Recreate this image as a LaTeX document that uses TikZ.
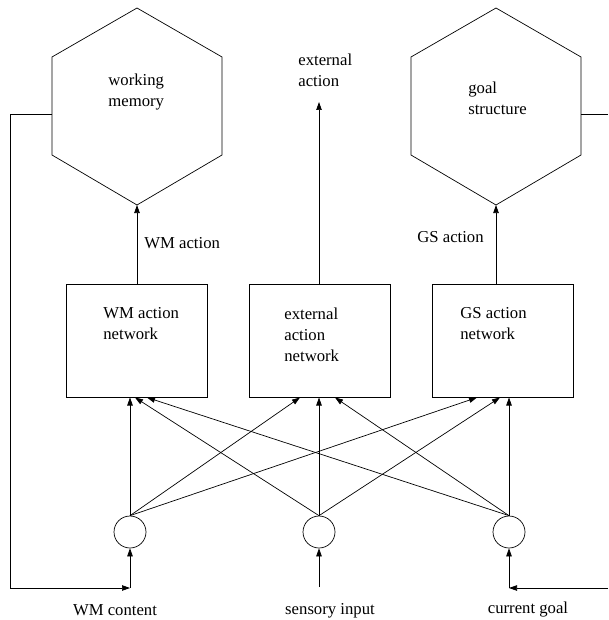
\documentclass[tikz,border=0pt]{standalone}
\usepackage{fontspec}
\setmainfont{Liberation Serif}
\newfontfamily\lserif{Liberation Serif}
\usetikzlibrary{arrows.meta}
\begin{document}
\begin{tikzpicture}[x=1pt,y=-1pt,
  line width=0.7pt,
  >={Triangle[length=8pt,width=5.5pt]},
  txt/.style={inner sep=0pt, align=left, font=\lserif\fontsize{16.7}{21}\selectfont},
  netbox/.style={draw, minimum width=141pt, minimum height=113pt, inner sep=0pt},
  unit/.style={draw, circle, minimum size=32pt, inner sep=0pt}]
\useasboundingbox (0,0) rectangle (608,620);

% hexagons
\draw (137,8) -- (222,57) -- (222,155) -- (137,205) -- (52,155) -- (52,57) -- cycle;
\coordinate (wmb) at (137,205);
\coordinate (wml) at (52,114);
\node[txt, anchor=west] (wmt) at (108,92) {working\\memory};

\draw (496,8) -- (581,57) -- (581,155) -- (496,205) -- (411,155) -- (411,57) -- cycle;
\coordinate (gsb) at (496,205);
\coordinate (gsr) at (581,114);
\node[txt, anchor=west] (gst) at (468,98) {goal\\structure};

% external action output
\coordinate (extout) at (319,102);
\node[txt, anchor=west] (extt) at (298,70) {external\\action};

% boxes
\node[netbox] (wmbox) at (136.5,340.5) {};
\node[netbox] (extbox) at (319.5,340.5) {};
\node[netbox] (gsbox) at (502.5,340.5) {};
\node[txt, anchor=west] (wmboxt) at (103,324) {WM action\\network};
\node[txt, anchor=west] (extboxt) at (284,335) {external\\action\\network};
\node[txt, anchor=west] (gsboxt) at (460,324) {GS action\\network};

% box outputs
\draw[->] (wmb |- wmbox.north) -- (wmb);
\draw[->] (extout |- extbox.north) -- (extout);
\draw[->] (gsb |- gsbox.north) -- (gsb);
\node[txt, anchor=west] (wmact) at (144,243) {WM action};
\node[txt, anchor=west] (gsact) at (417,237) {GS action};

% input units
\node[unit] (c1) at (130,532) {};
\node[unit] (c2) at (319,532) {};
\node[unit] (c3) at (509,532) {};

% targets on box bottoms
\coordinate (w1) at (130,397.5);
\coordinate (w2) at (135,397.5);
\coordinate (w3) at (147,397.5);
\coordinate (e1) at (300,397.5);
\coordinate (e2) at (319,397.5);
\coordinate (e3) at (335,397.5);
\coordinate (g1) at (477,397.5);
\coordinate (g2) at (500,397.5);
\coordinate (g3) at (509,397.5);

\draw[->] (c1.north) -- (w1);
\draw[->] (c1.north) -- (e1);
\draw[->] (c1.north) -- (g1);
\draw[->] (c2.north) -- (w2);
\draw[->] (c2.north) -- (e2);
\draw[->] (c2.north) -- (g2);
\draw[->] (c3.north) -- (w3);
\draw[->] (c3.north) -- (e3);
\draw[->] (c3.north) -- (g3);

% inputs
\coordinate (wmin) at (130,588);
\coordinate (sin) at (319,587);
\coordinate (cgin) at (509,588);
\coordinate (gsedge) at (608,114);
\coordinate (cgedge) at (608,588);
\draw[->] (wml) -- (10,114) -- (10,588) -- (wmin);
\draw[->] (wmin) -- (c1.south);
\draw[->] (sin) -- (c2.south);
\draw (gsr) -- (gsedge);
\draw[->] (cgedge) -- (cgin);
\draw[->] (cgin) -- (c3.south);

\node[txt] (wmc) at (115,610) {WM content};
\node[txt] (sens) at (330,611) {sensory input};
\node[txt] (cg) at (528,610) {current goal};
\end{tikzpicture}
\end{document}
